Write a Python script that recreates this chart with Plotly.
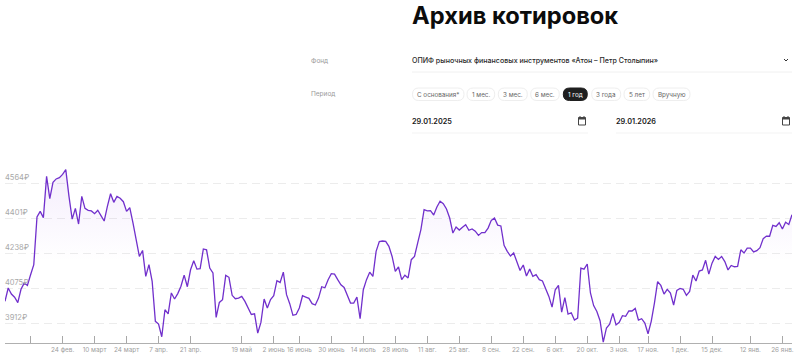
import plotly.graph_objects as go

title = "Архив котировок"
fund_label = "Фонд"
period_label = "Период"
fund_name = "ОПИФ рыночных финансовых инструментов «Атон – Петр Столыпин»"
date_from = "29.01.2025"
date_to = "29.01.2026"
periods = ["С основания*", "1 мес.", "3 мес.", "6 мес.", "1 год", "3 года", "5 лет", "Вручную"]
active_period = "1 год"

prices_part1 = [4013,4075,4047,4032,4007,4069,4098,4087,4137,4184,4406,4432,4403,4595,4491,4567,4583,4589,4604,4626,
4502,4396,4446,4373,4502,4446,4437,4434,4421,4437,4412,4387,4455,4514,4474,4502,4493,4477,4432,4449,
4378,4291,4222,4250,4129,4184,4106,3920,3907,3848,3974,3955,4052,4024,4049,4083,4135,4081,4160,4202,
4163,4165,4257,4253,4168,4145,3938,4008,4021,4134,4125,4041,4025,4028,4036,4013,3986,3952,3955,3865,
3915,4024,3982,4021]
prices_part2 = [4039,4109,4101,4149,4044,4002,3948,3952,3982,4039,4033,4027,4002,3996,4028,4081,4076,4114,4142,4140,
4114,4090,4078,4039,4005,4005,4033,3932,4067,4114,4149,4129,4246,4291,4294,4292,4269,4222,4153,4173,
4114,4135,4122,4207,4222,4285,4347,4440,4434,4435,4415,4452,4479,4468,4443,4401,4331,4359,4345,4358,
4370,4344,4350,4340,4320,4333,4333,4354,4390,4401,4368,4364,4274,4246,4224,4238,4199,4157,4182,4131,
4163,4129,4137]
prices_part3 = [4114,4108,4075,4036,3986,4067,4087,3963,4030,3954,3960,3926,3935,4168,4163,4187,4052,3993,3966,3923,
3823,3889,3907,3957,3903,3915,3946,3943,3968,3968,3980,3926,3932,3912,3862,3920,4005,4105,4087,4047,
4069,4052,3996,4064,4073,4069,4041,4059,4135,4108,4154,4159,4204,4140,4191,4222,4208,4222,4198,4159,
4180,4174,4176,4253,4238,4261,4261,4243,4249,4263,4305,4317,4316,4367,4362,4379,4350,4381,4371,4416]
prices = prices_part1 + prices_part2 + prices_part3
days = list(range(len(prices)))

tick_days = [8,18,28,38,48,58,74,84,92,102,112,122,132,142,152,162,172,182,192,201,211,221,233,243]
tick_labels = ["","24 фев.","10 март","24 март","7 апр.","21 апр.","19 май","2 июнь","16 июнь","30 июнь",
               "14 июль","28 июль","11 авг.","25 авг.","8 сен.","22 сен.","6 окт.","20 окт.","3 ноя.",
               "17 ноя.","1 дек.","15 дек.","12 янв.","26 янв."]
grid_values = [3912,4075,4238,4401,4564,4727]
y_labels = ["3912₽","4075₽","4238₽","4401₽","4564₽",""]

W, H = 800, 364
ML, MR, MT, MB = 5, 8, 148, 21
PW, PH = W-ML-MR, H-MT-MB
FONT = "Inter, Noto Sans, sans-serif"
def fx(x): return (x-ML)/PW
def fy(y): return (H-MB-y)/PH

fig = go.Figure()
fig.add_trace(go.Scatter(
    x=days, y=prices, mode="lines", line=dict(color="#7130cc", width=1.3),
    fill="tozeroy",
    fillgradient=dict(type="vertical", start=4620, stop=4200,
                      colorscale=[[0,"rgba(150,80,230,0.10)"],[1,"rgba(150,80,230,0.0)"]]),
    hoverinfo="skip", showlegend=False))

shapes, anns = [], []
def text(x, y, s, size, color, weight=400, anchor="left"):
    anns.append(dict(x=fx(x), y=fy(y), xref="paper", yref="paper", text=s, showarrow=False,
                     xanchor=anchor, yanchor="middle", xshift=-2 if anchor == "left" else 0,
                     font=dict(family=FONT, size=size, color=color, weight=weight)))
def hline(x0, x1, y, color, width=1, dash="solid"):
    shapes.append(dict(type="line", xref="paper", yref="paper", x0=fx(x0), x1=fx(x1), y0=fy(y), y1=fy(y),
                       line=dict(color=color, width=width, dash=dash)))
def pill(x0, x1, y0, y1, fill, border):
    r = (y1-y0)/2
    a, b, c, d, m = fx(x0), fx(x1), fy(y0), fy(y1), fy((y0+y1)/2)
    ar, br = fx(x0+r), fx(x1-r)
    p = f"M{ar},{c} L{br},{c} Q{b},{c} {b},{m} Q{b},{d} {br},{d} L{ar},{d} Q{a},{d} {a},{m} Q{a},{c} {ar},{c} Z"
    shapes.append(dict(type="path", xref="paper", yref="paper", path=p, fillcolor=fill,
                       line=dict(color=border, width=1)))
def calendar(cx, cy):
    shapes.append(dict(type="rect", xref="paper", yref="paper", x0=fx(cx-3.5), x1=fx(cx+3.5), y0=fy(cy-3.5), y1=fy(cy+4),
                       line=dict(color="#444444", width=1), fillcolor="rgba(0,0,0,0)"))
    shapes.append(dict(type="rect", xref="paper", yref="paper", x0=fx(cx-3.5), x1=fx(cx+3.5), y0=fy(cy-3.5), y1=fy(cy-1.5),
                       line=dict(color="#444444", width=0), fillcolor="#444444"))
    for dx in (-2, 2):
        shapes.append(dict(type="line", xref="paper", yref="paper", x0=fx(cx+dx), x1=fx(cx+dx), y0=fy(cy-5), y1=fy(cy-3),
                           line=dict(color="#444444", width=1)))

text(412, 15, title, 23.7, "#0c0c0c", 700)
text(311, 60.5, fund_label, 6.5, "#9a9a9a")
text(311, 93.5, period_label, 6.5, "#9a9a9a")
text(412, 60.5, fund_name, 7.1, "#2a2a2a", 500)
hline(412, 792, 72, "#f0f0f0")
shapes.append(dict(type="path", xref="paper", yref="paper",
                   path=f"M{fx(784)},{fy(59)} L{fx(786)},{fy(61)} L{fx(788)},{fy(59)}",
                   line=dict(color="#333333", width=1)))

pill_edges = [(412.5,464),(467,494.7),(498.3,527.3),(530.7,559.3),(563.3,587.3),(591.7,620.7),(624,649.7),(653,690)]
for name, (a, b) in zip(periods, pill_edges):
    on = name == active_period
    pill(a, b, 88, 100.5, "#1f1f1f" if on else "#ffffff", "#1f1f1f" if on else "#eeeeee")
    text((a+b)/2, 94.5, name, 6.3, "#ffffff" if on else "#666666", 400, "center")

text(412, 121.5, date_from, 7.3, "#1a1a1a", 600)
text(616, 121.5, date_to, 7.3, "#1a1a1a", 600)
calendar(582, 121)
calendar(786, 121)
hline(412, 588, 133, "#f3f3f3")
hline(616, 792, 133, "#f3f3f3")

for v, s in zip(grid_values, y_labels):
    if s:
        anns.append(dict(x=0, y=v, xref="paper", yref="y", text=s, showarrow=False, xanchor="left", yanchor="bottom",
                         xshift=-2, yshift=-1, font=dict(family=FONT, size=7.5, color="#a8a8a8")))

fig.update_layout(
    width=W, height=H, margin=dict(l=ML, r=MR, t=MT, b=MB, pad=0), autosize=False,
    paper_bgcolor="#ffffff", plot_bgcolor="#ffffff", showlegend=False,
    shapes=shapes, annotations=anns,
    xaxis=dict(range=[0, len(prices)-1], tickmode="array", tickvals=tick_days, ticktext=tick_labels,
               ticks="inside", ticklen=7, tickcolor="#a8a8a8", tickwidth=1, showgrid=False, zeroline=False,
               showline=True, linecolor="#b0b0b0", linewidth=1,
               tickfont=dict(family=FONT, size=6.4, color="#a0a0a0"), tickangle=0),
    yaxis=dict(range=[3819, 4727], tickmode="array", tickvals=grid_values, ticktext=[""]*6, showgrid=True,
               gridcolor="#ececec", griddash="8px,5px", gridwidth=1, zeroline=False, showline=False, ticks=""),
)
fig.write_html("out.html", config={"displayModeBar": False},
               post_script="document.body.style.margin='0';document.documentElement.style.overflow='hidden';")
